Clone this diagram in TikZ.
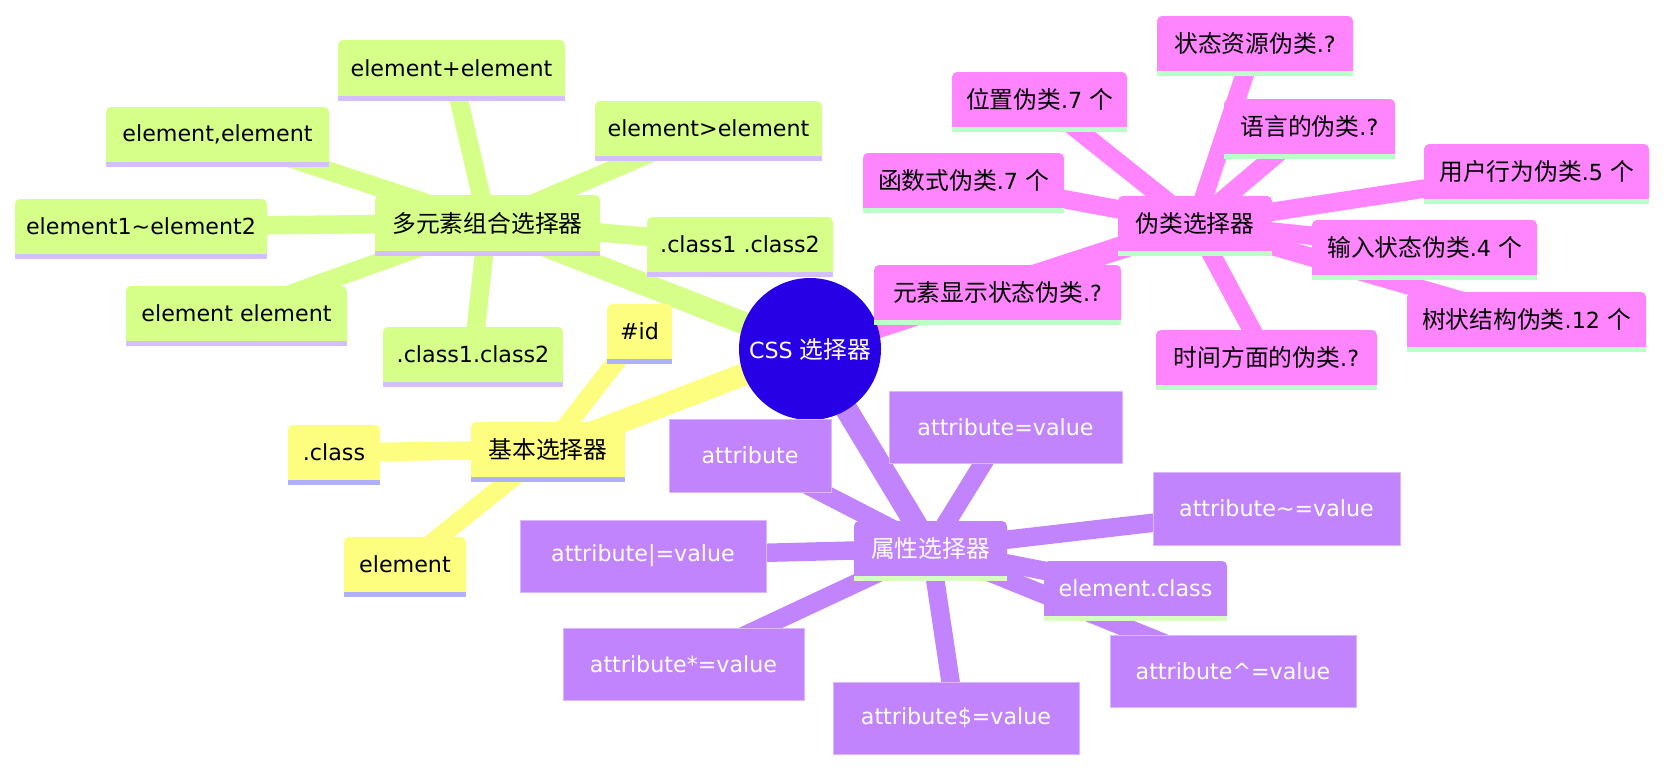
\documentclass[tikz,border=0pt]{standalone}
\usepackage{fontspec}
\setmainfont{DejaVu Sans}
\newfontfamily\cjk{Noto Sans CJK SC}[Scale=1.07]
\pgfdeclarelayer{bg}
\pgfsetlayers{bg,main}
\definecolor{gfill}{HTML}{D6FF8A}
\definecolor{gline}{HTML}{D5BEFF}
\definecolor{yfill}{HTML}{FDFD80}
\definecolor{yline}{HTML}{B0B0FF}
\definecolor{pfill}{HTML}{FF85FF}
\definecolor{pline}{HTML}{BBFFC9}
\definecolor{qfill}{HTML}{C184FC}
\definecolor{qline}{HTML}{D8FFC0}
\definecolor{qborder}{HTML}{D9B8FF}
\definecolor{rootc}{HTML}{2800E6}
\tikzset{
  txt/.style={inner sep=0pt, font=\fontsize{22.2}{26}\selectfont},
  e0/.style={line width=22.5pt},
  e1/.style={line width=18.5pt},
}
\newcommand\dn[9]{% name x1 y1 x2 y2 fill line textcolor text
  \fill[#6] (#2,#5) [rounded corners=5pt] -- (#2,#3) -- (#4,#3) [sharp corners] -- (#4,#5) -- cycle;
  \fill[#7] (#2,#5) rectangle (#4,{#5+4.5});
  \node[txt, text=#8] (#1) at ({(#2+#4)/2},{(#3+#5)/2}) {#9};
}
\newcommand\rn[6]{% name x1 y1 x2 y2 text
  \fill[qfill] (#2,#3) rectangle (#4,#5);
  \draw[qborder, line width=1pt] (#2,#3) rectangle (#4,#5);
  \node[txt, text=white] (#1) at ({(#2+#4)/2},{(#3+#5)/2}) {#6};
}
\begin{document}
\begin{tikzpicture}[x=1pt,y=-1pt]
\useasboundingbox (0,0) rectangle (1672,780);
% root
\node[circle, fill=rootc, minimum size=142pt, inner sep=0pt, text=white, font=\fontsize{22.2}{26}\selectfont] (root) at (810,349) {CSS {\cjk 选择器}};
% green
\dn{g0}{375}{195}{600}{251}{gfill}{gline}{black}{\cjk 多元素组合选择器}
\dn{g1}{338}{40}{565}{96}{gfill}{gline}{black}{element+element}
\dn{g2}{106}{107}{329}{162}{gfill}{gline}{black}{element,element}
\dn{g3}{15}{199}{267}{254}{gfill}{gline}{black}{element1\char`~element2}
\dn{g4}{126}{286}{347}{341}{gfill}{gline}{black}{element element}
\dn{g5}{383}{327}{563}{382}{gfill}{gline}{black}{.class1.class2}
\dn{g6}{595}{101}{822}{156}{gfill}{gline}{black}{element>element}
\dn{g7}{647}{217}{833}{272}{gfill}{gline}{black}{.class1 .class2}
% pink
\dn{p0}{1118}{196}{1272}{251}{pfill}{pline}{black}{\cjk 伪类选择器}
\dn{p1}{1157}{16}{1353}{71}{pfill}{pline}{black}{{\cjk 状态资源伪类}.?}
\dn{p2}{952}{72}{1127}{127}{pfill}{pline}{black}{{\cjk 位置伪类}.7 {\cjk 个}}
\dn{p3}{1224}{99}{1395}{154}{pfill}{pline}{black}{{\cjk 语言的伪类}.?}
\dn{p4}{863}{153}{1064}{208}{pfill}{pline}{black}{{\cjk 函数式伪类}.7 {\cjk 个}}
\dn{p5}{1424}{144}{1649}{199}{pfill}{pline}{black}{{\cjk 用户行为伪类}.5 {\cjk 个}}
\dn{p6}{1312}{220}{1537}{275}{pfill}{pline}{black}{{\cjk 输入状态伪类}.4 {\cjk 个}}
\dn{p7}{874}{265}{1121}{320}{pfill}{pline}{black}{{\cjk 元素显示状态伪类}.?}
\dn{p8}{1407}{292}{1646}{347}{pfill}{pline}{black}{{\cjk 树状结构伪类}.12 {\cjk 个}}
\dn{p9}{1156}{330}{1377}{385}{pfill}{pline}{black}{{\cjk 时间方面的伪类}.?}
% yellow
\dn{y0}{471}{422}{625}{477}{yfill}{yline}{black}{\cjk 基本选择器}
\dn{y1}{607}{304}{672}{359}{yfill}{yline}{black}{\#id}
\dn{y2}{288}{425}{380}{480}{yfill}{yline}{black}{.class}
\dn{y3}{344}{537}{466}{592}{yfill}{yline}{black}{element}
% purple
\dn{q0}{854}{521}{1007}{576}{qfill}{qline}{white}{\cjk 属性选择器}
\rn{q1}{669}{419}{831}{492}{attribute}
\rn{q2}{889}{391}{1122}{463}{attribute=value}
\rn{q3}{1153}{472}{1400}{545}{attribute\char`~=value}
\rn{q4}{520}{520}{766}{592}{attribute|=value}
\dn{q5}{1044}{561}{1227}{616}{qfill}{qline}{white}{element.class}
\rn{q6}{563}{628}{804}{700}{attribute*=value}
\rn{q7}{833}{682}{1079}{754}{attribute\$=value}
\rn{q8}{1110}{635}{1356}{707}{attribute\char`^=value}
\begin{pgfonlayer}{bg}
\draw[e0, gfill] (root.center) -- (g0.center);
\draw[e0, pfill] (root.center) -- (p0.center);
\draw[e0, yfill] (root.center) -- (y0.center);
\draw[e0, qfill] (root.center) -- (q0.center);
\foreach \c in {g1,g2,g3,g4,g5,g6,g7} \draw[e1, gfill] (g0.center) -- (\c.center);
\foreach \c in {p1,p2,p3,p4,p5,p6,p7,p8,p9} \draw[e1, pfill] (p0.center) -- (\c.center);
\foreach \c in {y1,y2,y3} \draw[e1, yfill] (y0.center) -- (\c.center);
\foreach \c in {q1,q2,q3,q4,q5,q6,q7,q8} \draw[e1, qfill] (q0.center) -- (\c.center);
\end{pgfonlayer}
\end{tikzpicture}
\end{document}
